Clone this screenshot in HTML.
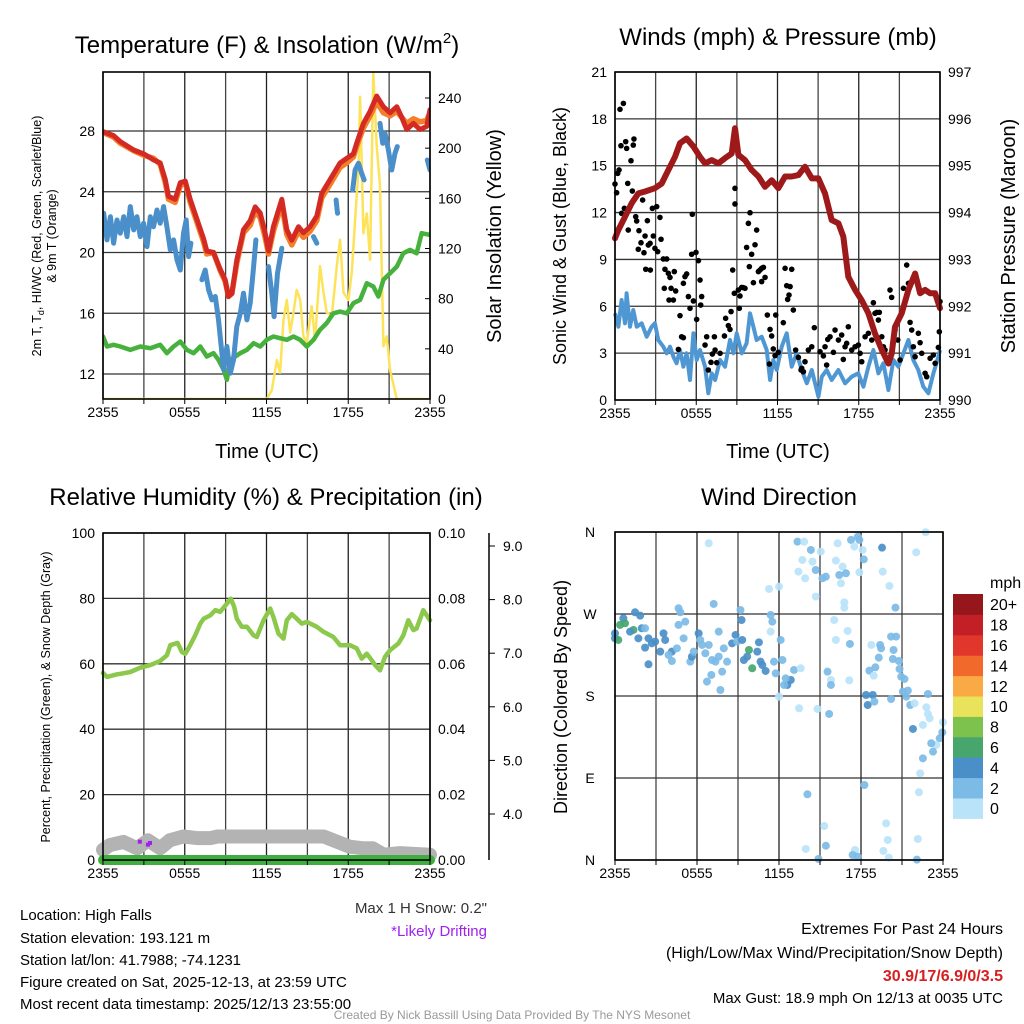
<!DOCTYPE html>
<html><head><meta charset="utf-8">
<style>
html,body{margin:0;padding:0;background:#fff;}
svg{display:block;font-family:"Liberation Sans",Arial,sans-serif;}
</style></head>
<body>
<svg id="c" width="1024" height="1024" viewBox="0 0 1024 1024">
<rect width="1024" height="1024" fill="#fff"/>
<!-- titles -->
<text x="267" y="53" font-size="24" text-anchor="middle">Temperature (F) &amp; Insolation (W/m<tspan font-size="15" dy="-10">2</tspan><tspan dy="10">)</tspan></text>
<text x="778" y="45" font-size="24" text-anchor="middle">Winds (mph) &amp; Pressure (mb)</text>
<text x="266" y="505" font-size="24" text-anchor="middle">Relative Humidity (%) &amp; Precipitation (in)</text>
<text x="779" y="505" font-size="24" text-anchor="middle">Wind Direction</text>
<!-- axis titles -->
<text x="267" y="458" font-size="20" text-anchor="middle">Time (UTC)</text>
<text x="778" y="458" font-size="20" text-anchor="middle">Time (UTC)</text>
<text transform="translate(41,236) rotate(-90)" font-size="12.5" text-anchor="middle">2m T, T<tspan font-size="9" dy="3">d</tspan><tspan dy="-3">, HI/WC (Red, Green, Scarlet/Blue)</tspan></text>
<text transform="translate(56,236) rotate(-90)" font-size="12.5" text-anchor="middle">&amp; 9m T (Orange)</text>
<text transform="translate(501,236) rotate(-90)" font-size="20" text-anchor="middle">Solar Insolation (Yellow)</text>
<text transform="translate(566,236) rotate(-90)" font-size="18" text-anchor="middle">Sonic Wind &amp; Gust (Blue, Black)</text>
<text transform="translate(1015,236) rotate(-90)" font-size="20" text-anchor="middle">Station Pressure (Maroon)</text>
<text transform="translate(50,697) rotate(-90)" font-size="12.5" text-anchor="middle">Percent, Precipitation (Green), &amp; Snow Depth (Gray)</text>
<text transform="translate(567,697) rotate(-90)" font-size="18" text-anchor="middle">Direction (Colored By Speed)</text>
<!-- info text -->
<g font-size="15">
<text x="20" y="920">Location: High Falls</text>
<text x="20" y="943">Station elevation: 193.121 m</text>
<text x="20" y="965">Station lat/lon: 41.7988; -74.1231</text>
<text x="20" y="987">Figure created on Sat, 2025-12-13, at 23:59 UTC</text>
<text x="20" y="1009">Most recent data timestamp: 2025/12/13 23:55:00</text>
</g>
<text x="487" y="913" font-size="15" fill="#333" text-anchor="end">Max 1 H Snow: 0.2"</text>
<text x="487" y="936" font-size="15" fill="#a020f0" text-anchor="end">*Likely Drifting</text>
<g font-size="16" text-anchor="end">
<text x="1003" y="934">Extremes For Past 24 Hours</text>
<text x="1003" y="958">(High/Low/Max Wind/Precipitation/Snow Depth)</text>
<text x="1003" y="981" fill="#d62020" font-weight="bold">30.9/17/6.9/0/3.5</text>
<text x="1003" y="1003" font-size="15">Max Gust: 18.9 mph On 12/13 at 0035 UTC</text>
</g>
<text x="512" y="1019" font-size="12" fill="#999" text-anchor="middle">Created By Nick Bassill Using Data Provided By The NYS Mesonet</text>
</svg>
<script>
// ---------- Panel 1 data (hours since 2355) ----------
const xTickLabels = ["2355","0555","1155","1755","2355"];
const tempTicks = [12,16,20,24,28];
const solarTicks = [0,40,80,120,160,200,240];
const redT = [0,0.78,1.27,2.25,2.98,3.71,4.2,4.57,4.81,5.3,5.67,6.04,6.4,6.89,7.38,7.62,8.11,8.6,8.97,9.21,9.46,9.82,10.31,10.8,11.17,11.54,11.9,12.15,12.51,13.12,13.49,13.86,14.35,14.71,15.2,15.69,16.06,16.67,17.4,17.89,18.38,18.62,19.11,19.6,20.09,20.58,21.07,21.56,21.92,22.29,22.78,23.27,23.76,24];
const redV = [27.96,27.7,27.3,26.75,26.5,26.1,25.9,24.8,23.7,23.5,24.6,24.7,23.5,22.2,20.9,20.1,20.0,18.9,18.2,17.1,17.3,19.5,21.5,22.1,23.0,22.6,21.3,20.1,21.7,23.5,21.5,20.8,21.7,21.3,21.7,22.4,23.9,24.8,25.9,26.2,26.5,27.2,28.5,29.3,30.3,29.6,29.2,29.6,28.9,28.1,28.5,28.1,28.3,29.4];
const orangeV = [27.9,27.6,27.2,26.7,26.4,26.2,25.8,24.6,23.5,23.3,24.4,24.6,23.3,22.0,20.7,19.9,20.0,18.8,18.1,17.1,17.3,19.3,21.3,21.8,22.7,22.3,21.0,19.9,21.4,23.2,21.2,20.5,21.4,21.0,21.4,22.1,23.6,24.5,25.6,25.9,26.3,27.0,28.2,29.0,29.9,29.2,29.0,29.3,28.9,28.5,28.8,28.6,28.7,29.2];
const blueT = [0,0.05,0.29,0.54,0.78,1.03,1.27,1.52,1.76,2.0,2.25,2.49,2.74,2.98,3.23,3.47,3.71,3.96,4.2,4.45,4.69,4.94,5.18,5.43,5.67,5.91,6.11,6.28,6.45,6.6,7.26,7.5,7.75,7.99,8.24,8.48,8.65,8.85,9.09,9.34,9.58,9.82,10.07,10.31,10.56,10.8,11.05,11.22,11.6,12.15,12.39,12.56,12.81,13.12,13.5,15.45,15.69,16.0,17.11,17.21,17.5,18.33,18.5,18.75,18.99,19.16,19.6,20.33,20.53,20.7,20.95,21.19,21.43,21.6,22.0,23.8,24];
const blueV = [21.92,22.58,20.83,22.36,20.61,22.14,21.27,22.36,21.05,23.02,21.49,22.36,21.05,21.92,20.39,22.36,21.70,22.80,21.92,23.02,21.70,20.17,20.83,19.51,18.85,21.27,22.14,19.73,20.61,null,18.20,18.85,17.54,16.88,17.10,15.56,14.03,12.28,13.81,12.06,12.93,15.13,15.96,17.32,15.56,16.66,19.07,20.83,null,19.07,17.32,15.78,18.63,20.28,null,21.05,20.61,null,23.46,22.58,null,24.12,25.43,25.87,25.21,24.78,null,28.5,27.19,27.85,26.75,25.43,26.53,26.97,null,26.09,25.43];
const greenT = [0,0.29,0.78,1.27,2.0,2.74,3.47,4.2,4.69,5.18,5.67,6.16,6.65,7.14,7.62,8.11,8.48,8.85,9.09,9.34,10.07,10.56,11.05,11.54,12.02,12.51,13.0,13.49,13.98,14.47,14.96,15.45,15.93,16.42,16.91,17.4,17.89,18.38,18.87,19.36,19.84,20.21,20.58,21.07,21.56,22.04,22.53,23.02,23.39,24];
const greenV = [14.47,13.81,13.92,13.81,13.59,13.81,13.7,13.92,13.37,13.81,14.14,13.59,13.37,13.81,13.15,13.37,12.93,12.28,11.62,12.93,13.37,13.59,14.03,13.81,14.25,14.47,14.36,14.25,14.47,14.25,13.81,14.25,14.91,15.35,16.0,16.11,16.0,16.66,16.88,17.98,17.76,17.1,18.2,18.63,19.07,19.95,20.17,19.95,21.27,21.16];
const solarT = [0,12.02,12.39,12.76,13.0,13.25,13.49,13.74,13.98,14.22,14.47,14.71,14.96,15.32,15.57,15.93,16.18,16.42,16.79,17.16,17.4,17.65,18.01,18.26,18.5,18.75,18.87,19.11,19.36,19.6,19.84,20.09,20.33,20.58,20.82,21.07,21.56,24];
const solarV = [0,0,7,31,21,63,79,53,69,87,79,50,45,74,47,106,85,69,66,106,127,85,79,101,143,183,241,132,148,111,260,202,170,42,50,23,0,0];

// ---------- Panel 2 data ----------
const windTicks = [0,3,6,9,12,15,18,21];
const presTicks = [990,991,992,993,994,995,996,997];
const presT = [0,0.25,0.74,1.23,1.72,2.22,2.95,3.45,3.94,4.43,4.8,5.29,5.79,6.28,6.65,7.14,7.63,8.12,8.62,8.86,9.11,9.6,10.09,10.59,11.08,11.57,12.06,12.56,13.05,13.54,14.03,14.53,15.02,15.51,16.0,16.5,16.86,17.23,17.73,18.22,18.71,19.2,19.7,20.19,20.43,20.68,21.17,21.67,22.16,22.53,22.9,23.27,23.64,24];
const presV = [993.45,993.63,993.91,994.2,994.41,994.45,994.52,994.62,994.91,995.19,995.48,995.58,995.41,995.19,995.05,995.12,995.05,995.16,995.26,995.8,995.23,995.12,994.91,994.77,994.55,994.69,994.52,994.77,994.77,994.8,994.98,994.73,994.73,994.41,993.84,993.77,993.49,992.63,992.35,992.13,991.85,991.42,991.07,990.78,990.99,991.56,991.85,992.35,992.7,992.28,992.35,992.28,992.28,991.96];
const windT = [0,0.25,0.49,0.74,0.86,1.11,1.35,1.6,1.97,2.34,2.71,2.95,3.2,3.57,3.82,4.06,4.31,4.55,4.8,5.05,5.29,5.54,5.79,6.03,6.28,6.65,6.89,7.14,7.39,7.76,8.12,8.49,8.74,8.99,9.36,9.72,9.97,10.22,10.46,10.83,11.2,11.45,11.69,11.94,12.31,12.68,13.05,13.42,13.79,14.16,14.53,15.02,15.27,15.63,16.0,16.5,16.99,17.48,17.97,18.34,18.71,19.08,19.45,19.82,20.19,20.56,20.93,21.3,21.67,22.03,22.4,22.77,23.14,23.51,23.88,24];
const windV = [5.55,4.69,6.4,4.91,6.83,4.69,5.76,4.69,4.91,4.05,4.69,4.91,3.84,3.41,2.99,3.41,2.77,2.35,3.2,2.13,2.99,1.28,4.27,2.56,3.2,2.13,0.43,1.71,1.28,2.56,2.13,3.84,2.99,4.27,2.99,3.63,5.55,4.69,3.84,4.05,3.2,1.28,2.56,1.92,3.41,4.27,2.13,2.99,1.92,1.07,1.92,0.21,1.49,1.92,1.28,1.92,1.07,1.49,1.71,0.85,2.13,3.2,1.71,2.35,0.64,2.56,2.13,2.99,3.84,2.56,1.92,0.85,0.43,1.71,2.77,3.2];
const gustT = [0,0.12,0.2,0.3,0.37,0.62,0.44,0.79,0.86,1.4,1.35,1.18,0.94,1.28,0.69,0.98,0.49,1.53,1.6,2.04,1.77,2.22,1.72,1.92,2.14,2.46,2.39,2.59,2.76,3.08,3.32,3.4,2.83,2.95,3.15,2.27,2.61,3.57,3.82,3.69,3.94,4.06,4.38,3.64,4.14,4.48,3.99,4.31,5.17,5.29,5.05,4.8,4.92,4.68,5.05,5.54,5.79,5.42,5.71,5.66,5.98,6.16,6.28,6.4,6.33,6.03,6.65,6.77,6.89,7.09,7.19,7.34,7.39,7.51,7.76,8.08,8.17,8.37,8.49,8.57,8.69,8.86,8.86,8.81,9.11,9.23,9.36,9.48,9.6,9.18,9.72,9.85,9.97,10.09,9.92,10.22,10.34,10.46,10.59,10.71,10.83,10.96,11.08,10.83,11.25,11.87,11.45,11.57,11.69,11.82,12.06,11.4,12.56,13.05,12.68,12.93,12.75,12.85,13.17,12.43,13.34,13.54,13.74,13.91,14.03,13.79,14.28,14.53,14.72,15.14,15.39,15.51,15.63,15.71,15.88,16.13,16.25,16.5,16.74,16.86,16.99,17.11,17.23,17.48,17.73,17.97,18.1,18.22,18.47,18.71,18.96,19.08,19.2,19.33,19.45,19.52,19.7,19.82,19.94,20.31,20.43,20.68,20.88,21.05,21.3,21.54,21.67,21.79,21.91,22.03,22.16,22.4,22.53,22.65,22.9,23.02,23.27,23.51,23.64,23.88,23.95,24];
const gustV = [13.83,13.27,14.51,14.73,18.61,18.99,16.28,16.54,16.11,16.71,16.32,15.32,13.87,13.38,12.27,10.88,11.95,11.74,11.46,12.8,10.84,10.5,9.65,10.07,9.43,9.92,11.48,10.03,12.27,12.38,11.69,10.29,10.5,9.71,9.5,8.37,8.32,9.03,9.03,8.37,8.11,7.85,8.22,7.15,7.15,6.98,6.4,6.4,7.9,8.07,7.47,5.4,4.05,3.24,3.99,5.87,6.34,6.62,11.89,9.33,9.45,8.92,7.68,6.62,6.08,5.16,3.52,4.05,1.92,2.41,2.94,4.05,3.2,2.39,2.99,4.1,5.23,4.76,4.52,5.66,8.32,13.55,12.55,6.83,7.04,6.66,7.21,7.19,7.15,5.87,9.77,11.31,11.99,9.33,8.54,7.51,9.94,10.88,8.22,8.32,8.43,8.49,7.85,7.58,5.44,5.44,4.52,4.1,3.27,2.84,3.05,2.3,8.43,8.37,7.32,7.26,6.44,6.72,5.76,4.95,3.2,2.73,1.92,1.81,2.45,2.03,3.2,3.41,4.63,3.09,2.82,3.41,2.24,3.88,4.05,3.05,4.48,3.84,4.16,2.6,3.41,3.63,4.69,3.2,3.41,3.52,2.99,2.45,4.05,4.27,3.84,6.23,5.55,5.61,5.12,5.61,4.05,3.41,3.2,7.04,6.57,4.48,3.84,2.56,7.15,8.64,7.47,4.97,4.48,3.41,2.77,4.27,3.67,2.99,1.71,1.49,2.67,2.88,2.35,3.37,4.37,6.3];

// ---------- Panel 3 data ----------
const rhTicks = [0,20,40,60,80,100];
const precipTickLabels = ["0.00","0.02","0.04","0.06","0.08","0.10"];
const snowTicks = [4,5,6,7,8,9];
const rhT = [0,0.29,1.03,1.39,2.0,2.74,3.47,4.2,4.69,4.94,5.47,5.79,6.04,6.4,6.77,7.14,7.38,7.87,8.24,8.6,9.09,9.39,9.63,9.82,10.19,10.56,11.05,11.29,11.78,12.27,12.51,12.88,13.25,13.49,13.86,14.22,14.59,14.96,15.69,16.18,16.91,17.4,18.13,18.62,18.99,19.36,19.72,19.97,20.33,20.7,21.07,21.68,22.04,22.41,22.78,23.02,23.51,24];
const rhV = [57.2,56.0,56.8,57.0,57.5,58.8,59.6,60.9,62.6,65.7,66.4,63.6,63.1,65.7,68.7,72.3,73.8,74.8,76.4,75.9,78.4,79.9,77.4,73.8,71.3,71.3,68.7,68.2,73.3,76.9,74.3,69.2,67.7,73.3,75.2,73.8,72.3,72.8,71.3,69.8,68.2,65.7,65.7,64.7,61.6,63.1,61.1,59.6,58.0,62.1,64.2,66.2,68.7,73.3,70.3,70.8,76.4,73.3];
const snowT = [0,0.5,1.5,2.5,3.3,4.2,4.9,5.9,6.9,7.9,8.4,16.2,17.2,18.1,19.1,19.8,20.6,21.8,24];
const snowV = [3.33,3.42,3.48,3.36,3.51,3.36,3.51,3.58,3.55,3.55,3.58,3.58,3.48,3.39,3.36,3.36,3.24,3.27,3.24];
const precipT = [0,24];
const precipV = [0,0];
const driftT = [2.7,3.3,3.45];
const driftV = [0.0056,0.0047,0.0052];

// ---------- Panel 4 data ----------
const dirLabels = ["N","E","S","W","N"];
const dirTicks = [0,90,180,270,360];
const speedBins = ["0","2","4","6","8","10","12","14","16","18","20+"];
const binColors = ["#b9e3f8","#7cbbe6","#4a8fc8","#46a66e","#7dc24c","#e8e35a","#f9aa44","#f16a2b","#e0362b","#c31f27","#95171c"];
const dirT = [0,0,0.24,0.37,0.61,0.73,1.35,1.47,1.84,1.1,1.96,2.2,1.71,2.45,2.69,2.2,2.94,3.31,3.55,3.67,2.45,4.16,3.92,4.16,4.53,4.65,4.78,5.14,4.65,5.02,5.51,5.63,5.76,6.12,6.24,6.61,6.86,6.37,6.73,7.1,7.35,7.59,7.96,8.2,7.71,7.84,7.05,7.59,7.22,6.86,8.57,8.82,8.94,9.18,9.26,9.31,9.43,9.67,9.8,10.04,10.41,10.53,10.65,11.02,10.78,11.39,11.51,11.39,12.12,11.63,11.76,12.25,12.61,12.86,13.1,13.59,12.37,12.0,13.47,12.49,11.27,12.0,13.42,13.71,13.91,13.35,13.84,14.33,14.45,14.69,15.06,15.18,15.43,14.69,16.29,16.16,16.41,16.65,16.9,16.53,16.78,16.78,17.27,17.76,17.88,17.51,18.12,18.2,17.88,19.54,19.59,20.08,20.52,22.04,22.73,16.04,17.02,16.16,17.19,15.55,15.8,15.8,17.14,14.82,15.67,18.76,19.4,19.47,19.3,20.2,20.57,20.38,20.33,20.77,18.61,19.05,18.93,20.82,20.94,21.18,21.06,21.43,21.31,18.37,18.86,18.49,18.98,20.2,21.6,21.92,22.9,22.78,22.9,23.02,22.53,24,23.95,21.8,23.76,23.51,23.27,23.14,22.53,22.33,22.24,18.25,14.08,15.31,19.84,19.96,22.16,13.96,15.43,17.56,17.39,17.76,19.64,20.03,22.09,14.89];
const dirV = [248.8,243.3,241.5,258,265.3,259.8,252.5,271.9,268.2,250.6,254.3,254.3,243.3,243.3,237.8,233.1,239.7,228.7,248.8,241.5,214.8,228.7,225,218.4,232.3,276.3,271.9,261.6,258,243.3,217.7,223.2,228.7,248.8,241.5,226.9,236,236,195.8,219.5,217.7,223.2,232.3,217.7,186.6,206.7,203.1,250.6,281,347.6,237.8,247,239.7,274.4,263.4,241.5,219.5,223.2,230.5,210.4,228.7,238.9,217.7,207.5,214,268.9,261.6,250.6,241.5,217.7,204.9,219.5,192.1,197.6,208.6,210.4,192.1,179.3,166.5,199.4,297.5,300,316.5,329.3,309.2,349.4,349.4,340.3,327.5,318.3,338.5,309.2,311,289.1,347.6,328.6,312.8,322,314.7,303.7,282.8,277,351.3,354.9,351.3,344,340.3,330,315.8,342.8,316.5,300.8,277,337.7,359.7,263.4,251.4,241.5,237.1,206.7,197.6,192.1,197.2,165.8,160.3,236,236,232.3,222.1,245.2,245.2,230.5,220.6,218.4,207.8,211.5,202.3,209.7,201.2,198.7,184.8,185.9,179.3,181.1,181.1,170.1,173.8,176.7,170.1,172,182.2,167.6,160.3,155.5,148.2,151.1,140.1,143.8,133.6,126.2,118.9,128.1,111.6,95.1,74.3,82.3,72.1,37.3,40.2,22,23.1,12.1,15.7,11,5.5,3.7,9.9,2.6,0.4,1.1];
const dirSpd = [4,4,6,6,4,6,6,4,4,4,4,3,4,4,4,4,4,4,4,4,4,4,3,3,3,3,2,3,3,3,3,4,3,4,3,2,2,3,3,3,3,3,3,3,3,3,2,2,2,1,4,4,3,3,4,4,4,4,6,6,4,4,4,4,4,3,2,1,2,3,3,3,4,4,3,1,3,1,1,3,1,1,1,1,1,3,1,3,1,3,1,3,3,1,1,1,3,1,3,1,1,1,3,3,2,1,1,3,1,4,1,1,3,1,1,1,1,1,3,3,1,3,1,1,3,1,3,2,3,3,3,3,3,3,3,3,1,3,3,3,3,3,3,4,4,4,3,3,3,1,3,1,1,1,1,1,3,4,3,1,3,3,3,1,1,3,3,1,1,1,1,1,3,1,3,3,1,1,3,3,3,1];

// ---------- drawing ----------
const NS = "http://www.w3.org/2000/svg";
const svg = document.getElementById('c');
function mk(tag, attrs, parent){
  const e = document.createElementNS(NS, tag);
  for (const k in attrs) e.setAttribute(k, attrs[k]);
  (parent||svg).appendChild(e);
  return e;
}
function linScale(d0,d1,r0,r1){ return v => r0 + (v-d0)/(d1-d0)*(r1-r0); }
function pathD(ts, vs, sx, sy){
  let d = "", pen = false;
  for (let i=0;i<ts.length;i++){
    if (vs[i]===null || vs[i]===undefined){ pen=false; continue; }
    d += (pen?"L":"M") + sx(ts[i]).toFixed(1) + "," + sy(vs[i]).toFixed(1);
    pen = true;
  }
  return d;
}
function grid(g, x0,x1,y0,y1, hYs){
  for (let i=0;i<=8;i++){
    const x = x0 + (x1-x0)*i/8;
    const l = mk('line',{x1:x,x2:x,y1:y0,y2:y1,stroke:(i%2? "#444":"#222"),'stroke-width':1.3},g);
    
    
  }
  hYs.forEach(y=>{
    const l = mk('line',{x1:x0,x2:x1,y1:y,y2:y,stroke:"#333",'stroke-width':1.3},g);
    
    
  });
}
function frame(g,x0,x1,y0,y1){
  const r = mk('rect',{x:x0,y:y0,width:x1-x0,height:y1-y0,fill:'none',stroke:'#000','stroke-width':1.6},g);
  
  
}
function xTicks(g,x0,x1,y1){
  for (let i=0;i<xTickLabels.length;i++){
    const x = x0 + (x1-x0)*i/4;
    const t = mk('text',{x:x,y:y1+18,'font-size':14,'text-anchor':'middle'},g);
    t.textContent = xTickLabels[i];
    
    
  }
  for (let i=0;i<=8;i++){
    const x = x0 + (x1-x0)*i/8;
    const l = mk('line',{x1:x,x2:x,y1:y1,y2:y1+5,stroke:'#000','stroke-width':1},g);
    
    
  }
}
function label(g,x,y,txt,anchor,name,size){
  const t = mk('text',{x:x,y:y,'font-size':size||14,'text-anchor':anchor},g);
  t.textContent = txt;
  
  
  return t;
}

// ===== Panel 1 =====
(function(){
  const g = mk('g',{});
  
  
  const X0=103,X1=430,Y0=72,Y1=399;
  const sx = linScale(0,24,X0,X1);
  const sT = linScale(28,12,131,374);
  const sS = linScale(0,240,399,98);
  grid(g,X0,X1,Y0,Y1,tempTicks.map(sT));
  tempTicks.forEach(v=>label(g,X0-8,sT(v)+5,String(v),'end','temp-tick-label'));
  solarTicks.forEach(v=>{
    label(g,X1+8,sS(v)+5,String(v),'start','solar-tick-label');
    const l = mk('line',{x1:X1-5,x2:X1,y1:sS(v),y2:sS(v),stroke:'#000'},g);
    
    
  });
  const clip = mk('clipPath',{id:'clip1'},g);
  mk('rect',{x:X0,y:Y0,width:X1-X0,height:Y1-Y0},clip);
  const series = [
    ['solar-insolation-line',solarT,solarV,sS,'#fde35a',2.5],
    ['dewpoint-line',greenT,greenV,sT,'#46b13d',4.5],
    ['windchill-line',blueT,blueV,sT,'#4a8fc9',5],
    ['temp-9m-line',redT,orangeV,sT,'#f47f2a',5.5],
    ['temp-2m-line',redT,redV,sT,'#d42a24',5]
  ];
  series.forEach(s=>{
    const p = mk('path',{d:pathD(s[1],s[2],sx,s[3]),fill:'none',stroke:s[4],'stroke-width':s[5],'stroke-linejoin':'round','stroke-linecap':'round','clip-path':'url(#clip1)'},g);
    
    
  });
  frame(g,X0,X1,Y0,Y1);
  xTicks(g,X0,X1,Y1);
})();

// ===== Panel 2 =====
(function(){
  const g = mk('g',{});
  
  
  const X0=615,X1=940,Y0=72,Y1=400;
  const sx = linScale(0,24,X0,X1);
  const sW = linScale(0,21,Y1,Y0);
  const sP = linScale(990,997,Y1,Y0);
  grid(g,X0,X1,Y0,Y1,windTicks.map(sW));
  windTicks.forEach(v=>label(g,X0-8,sW(v)+5,String(v),'end','wind-tick-label'));
  presTicks.forEach(v=>label(g,X1+8,sP(v)+5,String(v),'start','pressure-tick-label'));
  const wl = mk('path',{d:pathD(windT,windV,sx,sW),fill:'none',stroke:'#4f97d3','stroke-width':4,'stroke-linejoin':'round'},g);
  
  
  const gg = mk('g',{},g);
  
  
  for (let i=0;i<gustT.length;i++){
    const c = mk('circle',{cx:sx(gustT[i]),cy:sW(gustV[i]),r:2.8,fill:'#000'},gg);
    
    
  }
  const pl = mk('path',{d:pathD(presT,presV,sx,sP),fill:'none',stroke:'#9e1a1a','stroke-width':6,'stroke-linejoin':'round','stroke-linecap':'round'},g);
  
  
  frame(g,X0,X1,Y0,Y1);
  xTicks(g,X0,X1,Y1);
})();

// ===== Panel 3 =====
(function(){
  const g = mk('g',{});
  
  
  const X0=103,X1=430,Y0=533,Y1=860;
  const sx = linScale(0,24,X0,X1);
  const sR = linScale(0,100,Y1,Y0);
  const sPr = linScale(0,0.1,Y1,Y0);
  const sSn = linScale(4,9,814,546);
  grid(g,X0,X1,Y0,Y1,rhTicks.map(sR));
  rhTicks.forEach(v=>label(g,X0-8,sR(v)+5,String(v),'end','rh-tick-label'));
  precipTickLabels.forEach((s,i)=>label(g,X1+8,sR(rhTicks[i])+5,s,'start','precip-tick-label'));
  const ax = mk('line',{x1:489,x2:489,y1:Y0,y2:Y1,stroke:'#000','stroke-width':1.5},g);
  
  
  snowTicks.forEach(v=>{
    label(g,503,sSn(v)+5,v.toFixed(1),'start','snow-tick-label');
    const l = mk('line',{x1:489,x2:495,y1:sSn(v),y2:sSn(v),stroke:'#000'},g);
    
    
  });
  const sn = mk('path',{d:pathD(snowT,snowV,sx,sSn),fill:'none',stroke:'#b3b3b3','stroke-width':14,'stroke-linejoin':'round','stroke-linecap':'round'},g);
  
  
  const pr = mk('path',{d:pathD(precipT,precipV,sx,sPr),fill:'none',stroke:'#3fae3f','stroke-width':10,'stroke-linecap':'round'},g);
  
  
  for (let i=0;i<driftT.length;i++){
    const c = mk('rect',{x:sx(driftT[i])-2,y:sPr(driftV[i])-2,width:4,height:4,fill:'#a020f0'},g);
    
    
  }
  const rh = mk('path',{d:pathD(rhT,rhV,sx,sR),fill:'none',stroke:'#8cc84b','stroke-width':4.5,'stroke-linejoin':'round','stroke-linecap':'round'},g);
  
  
  frame(g,X0,X1,Y0,Y1);
  xTicks(g,X0,X1,Y1);
})();

// ===== Panel 4 =====
(function(){
  const g = mk('g',{});
  
  
  const X0=615,X1=943,Y0=532,Y1=860;
  const sx = linScale(0,24,X0,X1);
  const sD = linScale(0,360,Y1,Y0);
  grid(g,X0,X1,Y0,Y1,dirTicks.map(sD));
  dirTicks.forEach((v,i)=>label(g,590,sD(v)+5,dirLabels[i],'middle','direction-tick-label'));
  const pg = mk('g',{},g);
  
  
  for (let i=0;i<dirT.length;i++){
    const bin = Math.min(10, Math.floor(dirSpd[i]/2));
    const c = mk('circle',{cx:sx(dirT[i]),cy:sD(dirV[i]),r:4,fill:binColors[bin],opacity:0.92},pg);
    
    
  }
  frame(g,X0,X1,Y0,Y1);
  xTicks(g,X0,X1,Y1);
  // colorbar
  const cb = mk('g',{},g);
  
  
  const bh = 20.4, top = 594;
  for (let i=0;i<speedBins.length;i++){
    const y = top + (speedBins.length-1-i)*bh;
    const r = mk('rect',{x:953,y:y,width:30,height:bh+0.5,fill:binColors[i]},cb);
    
    
    label(cb,990,y+bh/2+6,speedBins[i],'start','colorbar-label',16);
  }
  label(cb,990,588,'mph','start','colorbar-unit',16);
})();
</script>
</body></html>
